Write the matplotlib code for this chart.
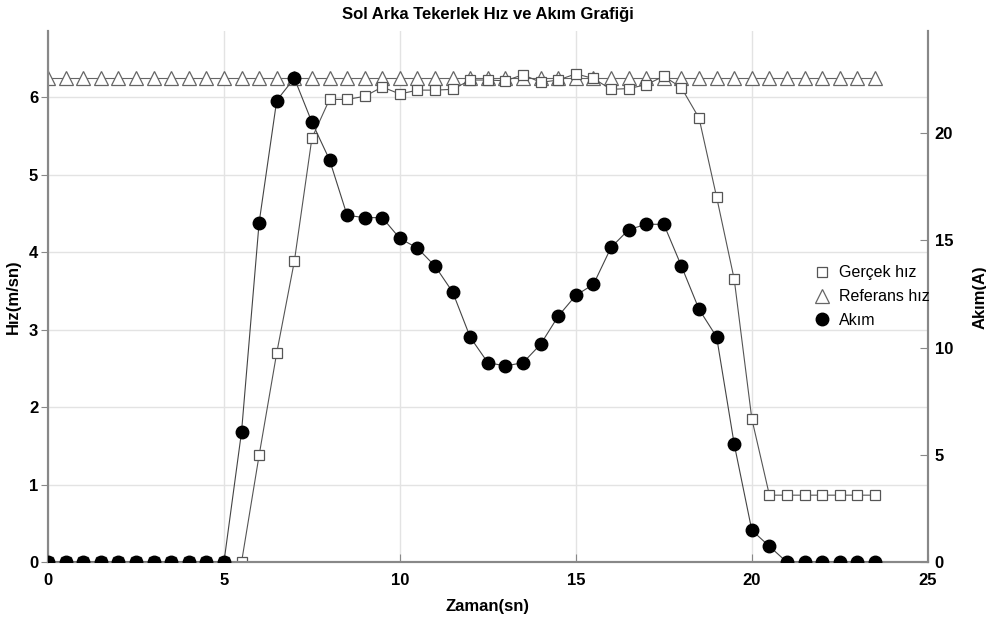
import matplotlib.pyplot as plt

plt.rcParams["font.family"] = ["Liberation Sans", "DejaVu Sans"]

# Data
zaman = [i * 0.5 for i in range(48)]  # 0 .. 23.5 s, 0.5 s step
referans_hiz = [6.25] * 48
gercek_hiz = [0, 0, 0, 0, 0, 0, 0, 0, 0, 0, 0, 0.0,
              1.38, 2.70, 3.88, 5.47, 5.97, 5.97, 6.01, 6.13,
              6.04, 6.09, 6.09, 6.10, 6.22, 6.22, 6.21, 6.29,
              6.19, 6.22, 6.30, 6.24, 6.10, 6.11, 6.16, 6.27,
              6.12, 5.73, 4.71, 3.65, 1.85, 0.865, 0.865, 0.865,
              0.865, 0.865, 0.865, 0.865]
akim = [0, 0, 0, 0, 0, 0, 0, 0, 0, 0, 0, 6.07,
        15.83, 21.52, 22.56, 20.51, 18.76, 16.17, 16.06, 16.06,
        15.09, 14.64, 13.80, 12.59, 10.48, 9.30, 9.15, 9.30,
        10.16, 11.47, 12.44, 12.95, 14.67, 15.50, 15.75, 15.75,
        13.80, 11.79, 10.50, 5.50, 1.49, 0.74, 0, 0,
        0, 0, 0, 0]

fig, ax = plt.subplots(figsize=(9.87, 6.24), dpi=100)
fig.subplots_adjust(left=0.0486, right=0.940, bottom=0.099, top=0.950)
ax2 = ax.twinx()

l1, = ax.plot(zaman, gercek_hiz, color="#555555", lw=0.8, marker="s",
              markersize=7, markerfacecolor="white", markeredgecolor="#555555",
              markeredgewidth=0.9, label="Gerçek hız", zorder=3)
l2, = ax.plot(zaman, referans_hiz, color="#666666", lw=0.8, marker="^",
              markersize=10, markerfacecolor="white", markeredgecolor="#666666",
              markeredgewidth=0.9, label="Referans hız", zorder=2)
l3, = ax2.plot(zaman, akim, color="#444444", lw=0.8, marker="o",
               markersize=9, markerfacecolor="black", markeredgecolor="black",
               label="Akım", zorder=4)

ax.set_xlim(0, 25)
ax.set_ylim(0, 6.85)
ax2.set_ylim(0, 24.75)
ax.set_xticks([0, 5, 10, 15, 20, 25])
ax.set_yticks([0, 1, 2, 3, 4, 5, 6])
ax2.set_yticks([0, 5, 10, 15, 20])

ax.grid(True, color="#e3e3e3", lw=1.0)
ax.set_axisbelow(True)

for a in (ax, ax2):
    a.spines["top"].set_visible(False)
    for s in ("left", "right", "bottom"):
        a.spines[s].set_color("#888888")
        a.spines[s].set_linewidth(1.5)

ax.tick_params(axis="x", direction="in", length=6, color="#888888",
               labelsize=12, pad=8)
ax.tick_params(axis="y", direction="out", length=5, color="#888888",
               labelsize=12, pad=2)
ax2.tick_params(axis="y", direction="in", length=6, color="#888888",
                labelsize=12, pad=5)
for lab in ax.get_xticklabels() + ax.get_yticklabels() + ax2.get_yticklabels():
    lab.set_fontweight("bold")

ax.set_title("Sol Arka Tekerlek Hız ve Akım Grafiği", fontsize=12,
             fontweight="bold", pad=9)
ax.set_xlabel("Zaman(sn)", fontsize=12, fontweight="bold", labelpad=8)
ax.set_ylabel("Hız(m/sn)", fontsize=12, fontweight="bold", labelpad=6)
ax2.set_ylabel("Akım(A)", fontsize=12, fontweight="bold", labelpad=14)

leg = ax2.legend(handles=[l1, l2, l3], loc="upper left",
                 bbox_to_anchor=(0.868, 0.565), frameon=False, fontsize=11.5,
                 handlelength=0.9, handletextpad=0.6, borderpad=0.2,
                 labelspacing=0.55, borderaxespad=0)
for h in leg.legend_handles:
    h.set_linestyle("none")

fig.savefig("out.png", dpi=100)
